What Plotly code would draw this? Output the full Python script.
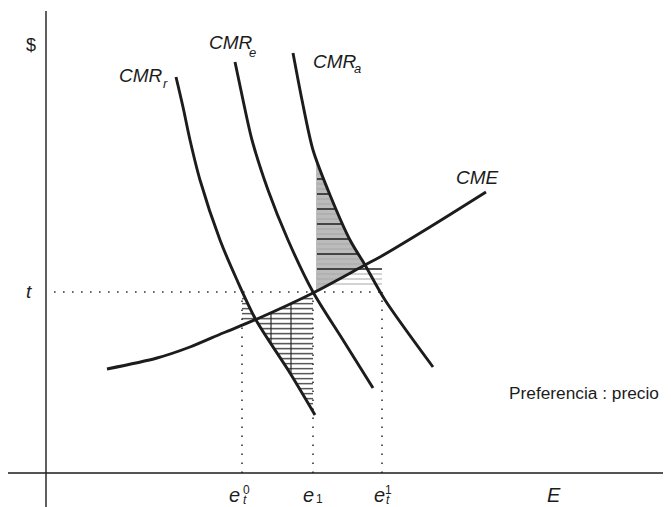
import numpy as np
import plotly.graph_objects as go

# ---------------- data (economic units: E on x, $ on y) ----------------
cmr_r_E = [130, 137, 144, 154, 174, 191, 210, 244, 269]
cmr_r_P = [396, 366, 333, 293, 233, 193, 153, 100, 58]
cmr_e_E = [189, 197, 206, 222, 242, 267, 297, 327]
cmr_e_P = [411, 373, 333, 283, 233, 181, 133, 85]
cmr_a_E = [247, 256, 267, 284, 304, 319, 339, 387]
cmr_a_P = [420, 373, 323, 278, 233, 208, 173, 106]
cme_E = [61, 111, 144, 177, 211, 267, 319, 334, 384, 440]
cme_P = [104, 115, 126, 140, 154, 180, 208, 216, 246, 281]
t_level = 181
e_t0 = 196
e_1 = 267
e_t1 = 336
lower_vert_E = [225, 245]

INK = "#1c1c1c"
FONT = "Liberation Sans, Arial, sans-serif"


def f_dec(curveE, curveP, x):  # P as function of E (decreasing curve)
    return float(np.interp(x, curveE, curveP))


def f_dec_inv(curveE, curveP, y):  # E as function of P (decreasing curve)
    return float(np.interp(y, curveP[::-1], curveE[::-1]))


def cme(x):
    return float(np.interp(x, cme_E, cme_P))


def cme_inv(y):
    return float(np.interp(y, cme_P, cme_E))


def intersect(cE, cP):
    xs = np.linspace(min(cE), max(cE), 4000)
    d = [f_dec(cE, cP, x) - cme(x) for x in xs]
    i = int(np.argmin(np.abs(d)))
    return xs[i], cme(xs[i])


xr_int, yr_int = intersect(cmr_r_E, cmr_r_P)
xa_int, ya_int = intersect(cmr_a_E, cmr_a_P)


def segs(list_of_segments):
    X, Y = [], []
    for (x0, y0, x1, y1) in list_of_segments:
        X += [x0, x1, None]
        Y += [y0, y1, None]
    return X, Y


fig = go.Figure()


def add_lines(segments, color, width, dash=None):
    X, Y = segs(segments)
    fig.add_trace(go.Scatter(x=X, y=Y, mode="lines", hoverinfo="skip",
                             line=dict(color=color, width=width, dash=dash)))


# ---------------- hatching: upper region ----------------
xl_u = e_1 + 4
top_u = f_dec(cmr_a_E, cmr_a_P, xl_u)
vert_u = []
for x in np.arange(xl_u, xa_int, 2.0):
    vert_u.append((x, cme(x), x, f_dec(cmr_a_E, cmr_a_P, x)))
add_lines(vert_u, "#555555", 0.8)

hor_u_black, hor_u_gray = [], []
for y in np.arange(189, top_u, 5.0):
    xr = e_t1 if y <= ya_int else f_dec_inv(cmr_a_E, cmr_a_P, y)
    seg = (xl_u, y, xr, y)
    if y >= 204 and abs((y - 204) % 15) < 0.5:
        hor_u_black.append(seg)
    else:
        hor_u_gray.append(seg)
add_lines(hor_u_gray, "#a8a8a8", 1.2)
add_lines(hor_u_black, INK, 1.5)

# ---------------- hatching: lower region ----------------
bottom_l = f_dec(cmr_r_E, cmr_r_P, e_1)
hor_l = []
for y in np.arange(bottom_l + 3, t_level - 6, 5.0):
    if y >= yr_int:
        hor_l.append((e_t0, y, f_dec_inv(cmr_r_E, cmr_r_P, y), y))
        xc = cme_inv(y)
        if xc < e_1:
            hor_l.append((xc, y, e_1, y))
    else:
        hor_l.append((f_dec_inv(cmr_r_E, cmr_r_P, y), y, e_1, y))
add_lines(hor_l, "#8a8a8a", 1.6)
add_lines(hor_l, "#3a3a3a", 0.7)
vert_l = [(x, cme(x), x, f_dec(cmr_r_E, cmr_r_P, x)) for x in lower_vert_E]
add_lines(vert_l, INK, 1.1)

# ---------------- dotted guide lines ----------------
dots = [(8, t_level, e_t1, t_level),
        (e_t0, 0, e_t0, t_level),
        (e_1, 0, e_1, t_level),
        (e_t1, 0, e_t1, t_level)]
add_lines(dots, "#333333", 1.6, dash="1.6px,7.4px")

# ---------------- axes ----------------
add_lines([(0, -34, 0, 462), (-38, 0, 625, 0)], INK, 1.4)

# ---------------- curves ----------------
for E, P in [(cmr_r_E, cmr_r_P), (cmr_e_E, cmr_e_P), (cmr_a_E, cmr_a_P), (cme_E, cme_P)]:
    fig.add_trace(go.Scatter(x=E, y=P, mode="lines", hoverinfo="skip",
                             line=dict(color=INK, width=2.9, shape="spline", smoothing=0.8)))

# ---------------- labels ----------------
ann = []


def label(text, x, y, size, xanchor="left", italic=False):
    if italic:
        text = "<i>" + text + "</i>"
    ann.append(dict(text=text, x=x, y=y, xref="x", yref="y", showarrow=False,
                    xanchor=xanchor, yanchor="middle", borderpad=0,
                    font=dict(family=FONT, size=size, color=INK)))


label("$", -15, 428, 18, "center")
label("t", -17, 181.5, 19, "center", italic=True)
label("CMR", 72, 398, 19, italic=True)
label("r", 116, 390, 13, italic=True)
label("CMR", 162, 430.5, 19, italic=True)
label("e", 202, 421, 13, italic=True)
label("CMR", 266, 412, 19, italic=True)
label("a", 307, 405, 13, italic=True)
label("CME", 409, 296, 19, italic=True)
label("Preferencia : precio", 462, 80.5, 17.3)

label("e", 188.5, -22, 20, "center", italic=True)
label("0", 200, -17, 12, "center")
label("t", 199, -27, 12, "center", italic=True)
label("e", 262, -22, 20, "center", italic=True)
label("1", 273, -26, 12, "center")
label("e", 333, -22, 20, "center", italic=True)
label("1", 342, -17, 12, "center")
label("t", 342, -27, 12, "center", italic=True)
label("E", 508, -22, 20, "center", italic=True)

# the page body adds an 8px margin, so the figure is 8px smaller and the
# axis ranges start 8 data units (= 8 px) in
fig.update_layout(
    width=663, height=499,
    margin=dict(l=0, r=0, t=0, b=0),
    paper_bgcolor="white", plot_bgcolor="white",
    showlegend=False,
    xaxis=dict(range=[-38, 625], visible=False, fixedrange=True),
    yaxis=dict(range=[-34, 465], visible=False, fixedrange=True),
    annotations=ann,
)

fig.write_html("out.html")
